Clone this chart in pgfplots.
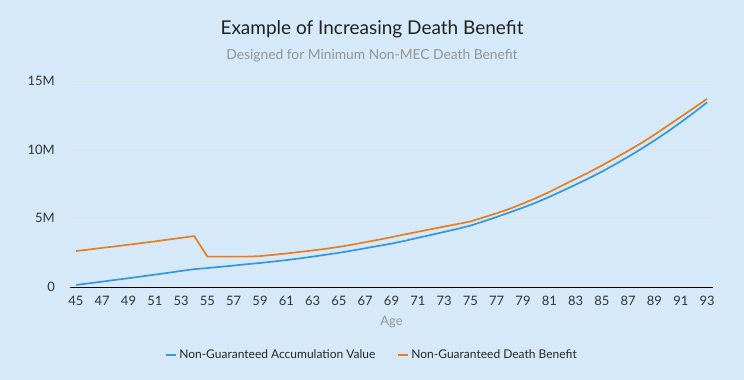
\documentclass[border=0pt]{standalone}
\usepackage{fontspec}
\setmainfont{Lato}
\usepackage{pgfplots}
\pgfplotsset{compat=1.18}
\usepackage{pgfplotstable}
\definecolor{bg}{RGB}{214,233,248}
\definecolor{blueline}{RGB}{52,152,219}
\definecolor{orangeline}{RGB}{230,126,34}
\definecolor{gridc}{RGB}{226,226,220}
\definecolor{tickc}{RGB}{51,51,51}
\definecolor{subc}{RGB}{148,148,148}
\pgfplotstableread{
age av db
45 0.15 2.62
46 0.27 2.73
47 0.39 2.85
48 0.52 2.96
49 0.64 3.08
50 0.77 3.20
51 0.90 3.32
52 1.03 3.45
53 1.17 3.58
54 1.30 3.71
55 1.38 2.21
56 1.47 2.21
57 1.56 2.21
58 1.66 2.21
59 1.75 2.25
60 1.85 2.34
61 1.96 2.44
62 2.08 2.55
63 2.21 2.66
64 2.35 2.78
65 2.49 2.92
66 2.65 3.08
67 2.82 3.26
68 2.99 3.44
69 3.16 3.63
70 3.36 3.83
71 3.58 4.02
72 3.79 4.21
73 4.01 4.40
74 4.23 4.58
75 4.47 4.77
76 4.78 5.07
77 5.10 5.37
78 5.44 5.70
79 5.78 6.08
80 6.15 6.48
81 6.56 6.92
82 7.00 7.40
83 7.45 7.87
84 7.91 8.34
85 8.40 8.85
86 8.93 9.38
87 9.48 9.92
88 10.06 10.48
89 10.67 11.09
90 11.31 11.74
91 11.99 12.39
92 12.70 13.04
93 13.44 13.70
}\datatable
\begin{document}
\begin{tikzpicture}
\useasboundingbox (0pt,0pt) rectangle (744pt,380pt);
\fill[bg] (0pt,0pt) rectangle (744pt,380pt);
\node[font=\fontsize{19}{21}\selectfont, text=black!87] at (372pt,350.5pt) {Example of Increasing Death Benefit};
\node[font=\fontsize{13.8}{16}\selectfont, text=subc] at (372pt,324.5pt) {Designed for Minimum Non-MEC Death Benefit};
\begin{axis}[
  at={(70pt,93pt)}, anchor=south west,
  width=643pt, height=206pt, scale only axis,
  xmin=44.55, xmax=93.45, ymin=0, ymax=15,
  xtick={45,47,...,93},
  ytick={0,5,10,15}, yticklabels={0,5M,10M,15M},
  axis x line*=bottom, axis y line*=left,
  x axis line style={draw=black, line width=1pt, -},
  y axis line style={draw=none},
  major tick length=0pt,
  ymajorgrids, major grid style={gridc, line width=0.8pt},
  /pgf/number format/assume math mode=true,
  tick label style={font=\fontsize{13}{15}\selectfont, text=tickc},
  x tick label style={anchor=center, inner sep=0pt, yshift=-14pt},
  y tick label style={anchor=east, inner sep=0pt, xshift=-15pt},
  xlabel={Age},
  xlabel style={at={(axis description cs:0.5,0)}, anchor=center, inner sep=0pt, yshift=-35pt, font=\fontsize{13}{15}\selectfont, text=subc},
  legend style={at={(axis description cs:0.4697,-0.330)}, anchor=center, draw=none, fill=none,
    font=\fontsize{12}{14}\selectfont, text=black!85, legend columns=2,
    /tikz/every even column/.append style={column sep=20pt}},
  legend image code/.code={\draw[#1, line width=2pt] (0pt,0pt) -- (10pt,0pt);},
  clip=false,
]
\addplot[blueline, line width=1.7pt, line join=round] table[x=age, y=av] {\datatable};
\addlegendentry{Non-Guaranteed Accumulation Value}
\addplot[orangeline, line width=1.7pt, line join=round] table[x=age, y=db] {\datatable};
\addlegendentry{Non-Guaranteed Death Benefit}
\end{axis}
\end{tikzpicture}
\end{document}
